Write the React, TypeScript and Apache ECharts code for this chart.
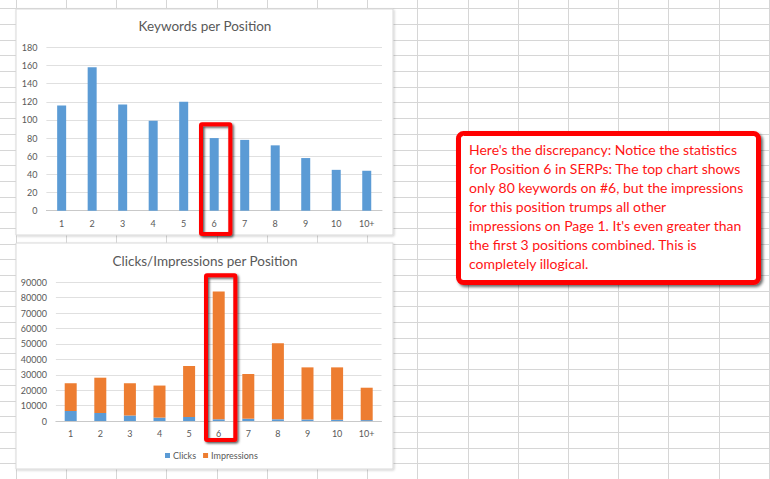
import * as echarts from 'echarts';
import { useEffect, useRef } from 'react';

const positions = ['1', '2', '3', '4', '5', '6', '7', '8', '9', '10', '10+'];
const keywords = [116, 158, 117, 99, 120, 80, 78, 72, 58, 45, 44];
const clicks = [6500, 5200, 3500, 2200, 2600, 1100, 1500, 1100, 1000, 800, 600];
const impressions = [18000, 22900, 21000, 20800, 33100, 83000, 29000, 49300, 33800, 34000, 21000];

const noteLines = [
  "Here's the discrepancy: Notice the statistics",
  'for Position 6 in SERPs: The top chart shows',
  'only 80 keywords on #6, but the impressions',
  'for this position trumps all other',
  "impressions on Page 1. It's even greater than",
  'the first 3 positions combined. This is',
  'completely illogical.',
];

const FONT = 'Lato, "Open Sans", sans-serif';
const TEXT = '#595959';
const BLUE = '#5b9bd5';
const ORANGE = '#ed7d31';

// spreadsheet cell lines behind the charts
const sheetLines = () => {
  const out: any[] = [];
  for (let i = 0; i < 16; i++) {
    const x = Math.round(15.7 + 50.2 * i) + 0.5;
    out.push({ type: 'line', z: 1, silent: true, shape: { x1: x, y1: 0, x2: x, y2: 479 }, style: { stroke: '#d6d6d6', lineWidth: 1 } });
  }
  for (let j = 0; j < 31; j++) {
    const y = Math.round(8.3 + 15.69 * j) + 0.5;
    out.push({ type: 'line', z: 1, silent: true, shape: { x1: 0, y1: y, x2: 770, y2: y }, style: { stroke: '#d6d6d6', lineWidth: 1 } });
  }
  return out;
};

const panel = (y: number, h: number) => ({
  type: 'rect',
  z: 2,
  silent: true,
  shape: { x: 16, y, width: 377, height: h },
  style: { fill: '#fff', stroke: '#d9d9d9', lineWidth: 1, shadowColor: 'rgba(0,0,0,0.18)', shadowBlur: 2, shadowOffsetX: 1, shadowOffsetY: 1 },
});

const redBox = (x: number, y: number, w: number, h: number, r = 1) => ({
  type: 'rect',
  z: 20,
  silent: true,
  shape: { x, y, width: w, height: h, r },
  style: { fill: 'none', stroke: '#ff0000', lineWidth: 4, shadowColor: 'rgba(0,0,0,0.65)', shadowBlur: 2, shadowOffsetX: 1.5, shadowOffsetY: 1.5 },
});

const App = () => {
  const chartRef = useRef<HTMLDivElement>(null);

  useEffect(() => {
    if (chartRef.current === null) return;
    const chart = echarts.init(chartRef.current, null, { renderer: 'svg' });

    const axisLabel = { color: TEXT, fontSize: 9, fontFamily: FONT };

    chart.setOption({
      animation: false,
      backgroundColor: '#fff',
      grid: [
        { left: 46.4, top: 47.3, width: 335.6, height: 163.4 },
        { left: 55.9, top: 282.3, width: 325.6, height: 138.7 },
      ],
      xAxis: [0, 1].map((i) => ({
        type: 'category',
        gridIndex: i,
        data: positions,
        z: 5,
        axisTick: { show: false },
        axisLine: { lineStyle: { color: '#c9c9c9' } },
        axisLabel: { ...axisLabel, margin: 8 },
      })),
      yAxis: [
        { type: 'value', gridIndex: 0, min: 0, max: 180, interval: 20, z: 5 },
        { type: 'value', gridIndex: 1, min: 0, max: 90000, interval: 10000, z: 5 },
      ].map((a) => ({
        ...a,
        axisLine: { show: false },
        axisTick: { show: false },
        splitLine: { lineStyle: { color: '#e0e0e0' } },
        axisLabel: { ...axisLabel, margin: 9, formatter: (v: number) => String(v) },
      })),
      legend: {
        data: ['Clicks', 'Impressions'],
        left: 160,
        top: 446,
        z: 5,
        icon: 'rect',
        itemWidth: 5,
        itemHeight: 5,
        itemGap: 7,
        textStyle: { color: TEXT, fontSize: 9, fontFamily: FONT, padding: [0, 0, 0, -2] },
      },
      series: [
        { name: 'Keywords', type: 'bar', xAxisIndex: 0, yAxisIndex: 0, data: keywords, barWidth: 9, itemStyle: { color: BLUE }, z: 6 },
        { name: 'Clicks', type: 'bar', stack: 'ci', xAxisIndex: 1, yAxisIndex: 1, data: clicks, barWidth: 12, itemStyle: { color: BLUE }, z: 6 },
        { name: 'Impressions', type: 'bar', stack: 'ci', xAxisIndex: 1, yAxisIndex: 1, data: impressions, barWidth: 12, itemStyle: { color: ORANGE }, z: 6 },
      ],
      graphic: [
        ...sheetLines(),
        panel(9, 226),
        panel(243, 226),
        {
          type: 'text', z: 5, silent: true, x: 205, y: 26,
          style: { text: 'Keywords per Position', fill: TEXT, fontSize: 13.5, fontFamily: FONT, align: 'center', verticalAlign: 'middle' },
        },
        {
          type: 'text', z: 5, silent: true, x: 205, y: 261,
          style: { text: 'Clicks/Impressions per Position', fill: TEXT, fontSize: 13.5, fontFamily: FONT, align: 'center', verticalAlign: 'middle' },
        },
        redBox(201, 124.3, 29.3, 109.7),
        redBox(206, 275.3, 29.3, 164.7),
        {
          type: 'rect', z: 20, silent: true,
          shape: { x: 458.5, y: 133.5, width: 300, height: 149, r: 5 },
          style: { fill: '#fff', stroke: '#ff0000', lineWidth: 5, shadowColor: 'rgba(0,0,0,0.6)', shadowBlur: 3, shadowOffsetX: 2, shadowOffsetY: 2 },
        },
        {
          type: 'text', z: 21, silent: true, x: 469, y: 140.5,
          style: { text: noteLines.join('\n'), fill: '#ff1414', fontSize: 14, lineHeight: 18.9, fontFamily: FONT, align: 'left', verticalAlign: 'top' },
        },
      ],
    });

    return () => {
      chart.dispose();
    };
  }, []);

  return (
    <div style={{ position: 'fixed', left: 0, top: 0, width: 770, height: 479, background: '#fff' }}>
      <div ref={chartRef} style={{ width: 770, height: 479 }}></div>
    </div>
  );
};

export default App;
